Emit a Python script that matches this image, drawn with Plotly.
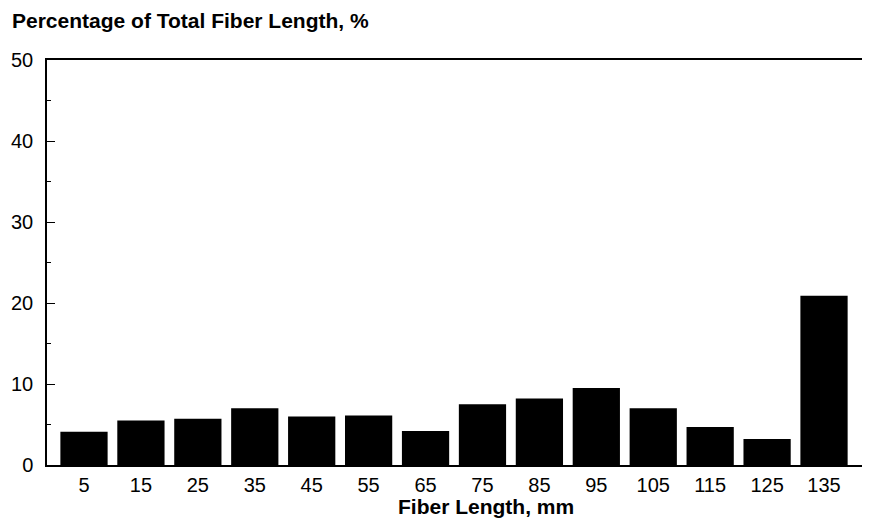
import plotly.graph_objects as go

lengths = [5, 15, 25, 35, 45, 55, 65, 75, 85, 95, 105, 115, 125, 135]
percent = [4.1, 5.5, 5.7, 7.0, 6.0, 6.1, 4.2, 7.5, 8.2, 9.5, 7.0, 4.7, 3.2, 20.9]
y_ticks = [0, 10, 20, 30, 40, 50]

# page body has an 8px offset; margins compensate for it
L, R, T, B = 39, 13, 52, 72
W, H = 870, 529
pw, ph = W - L - R, H - T - B

fig = go.Figure(go.Bar(x=lengths, y=percent, width=8.3, marker=dict(color="black", line=dict(width=0))))

fig.update_layout(
    width=W, height=H,
    margin=dict(l=L, r=R, t=T, b=B, autoexpand=False),
    paper_bgcolor="white", plot_bgcolor="white",
    font=dict(family="Liberation Sans, Arial, sans-serif", color="black"),
    showlegend=False,
    annotations=[
        dict(text="<b>Percentage of Total Fiber Length, %</b>", xref="paper", yref="paper",
             x=(2 - L) / pw, y=1 + 40 / ph, xanchor="left", yanchor="middle",
             showarrow=False, font=dict(size=21, color="black")),
        dict(text="<b>Fiber Length, mm</b>", xref="paper", yref="paper",
             x=(478 - L) / pw, y=-42 / ph, xanchor="center", yanchor="middle",
             showarrow=False, font=dict(size=21, color="black")),
    ],
)
fig.update_xaxes(
    range=[-1.5, 142.2], tickvals=lengths, ticktext=[str(v) for v in lengths],
    ticks="", showgrid=False, zeroline=False, automargin=False,
    showline=True, linecolor="black", linewidth=1.5, mirror=True,
    tickfont=dict(size=20), ticklabelstandoff=1,
)
fig.update_yaxes(
    range=[0, 50], tickvals=y_ticks, ticks="inside", ticklen=8, tickwidth=1.2, tickcolor="black",
    minor=dict(ticks="inside", ticklen=4, dtick=5, tickcolor="black", showgrid=False),
    showgrid=False, zeroline=False, automargin=False,
    showline=True, linecolor="black", linewidth=1.5, mirror=True,
    tickfont=dict(size=20), ticklabelstandoff=8,
)

fig.write_html("out.html")
